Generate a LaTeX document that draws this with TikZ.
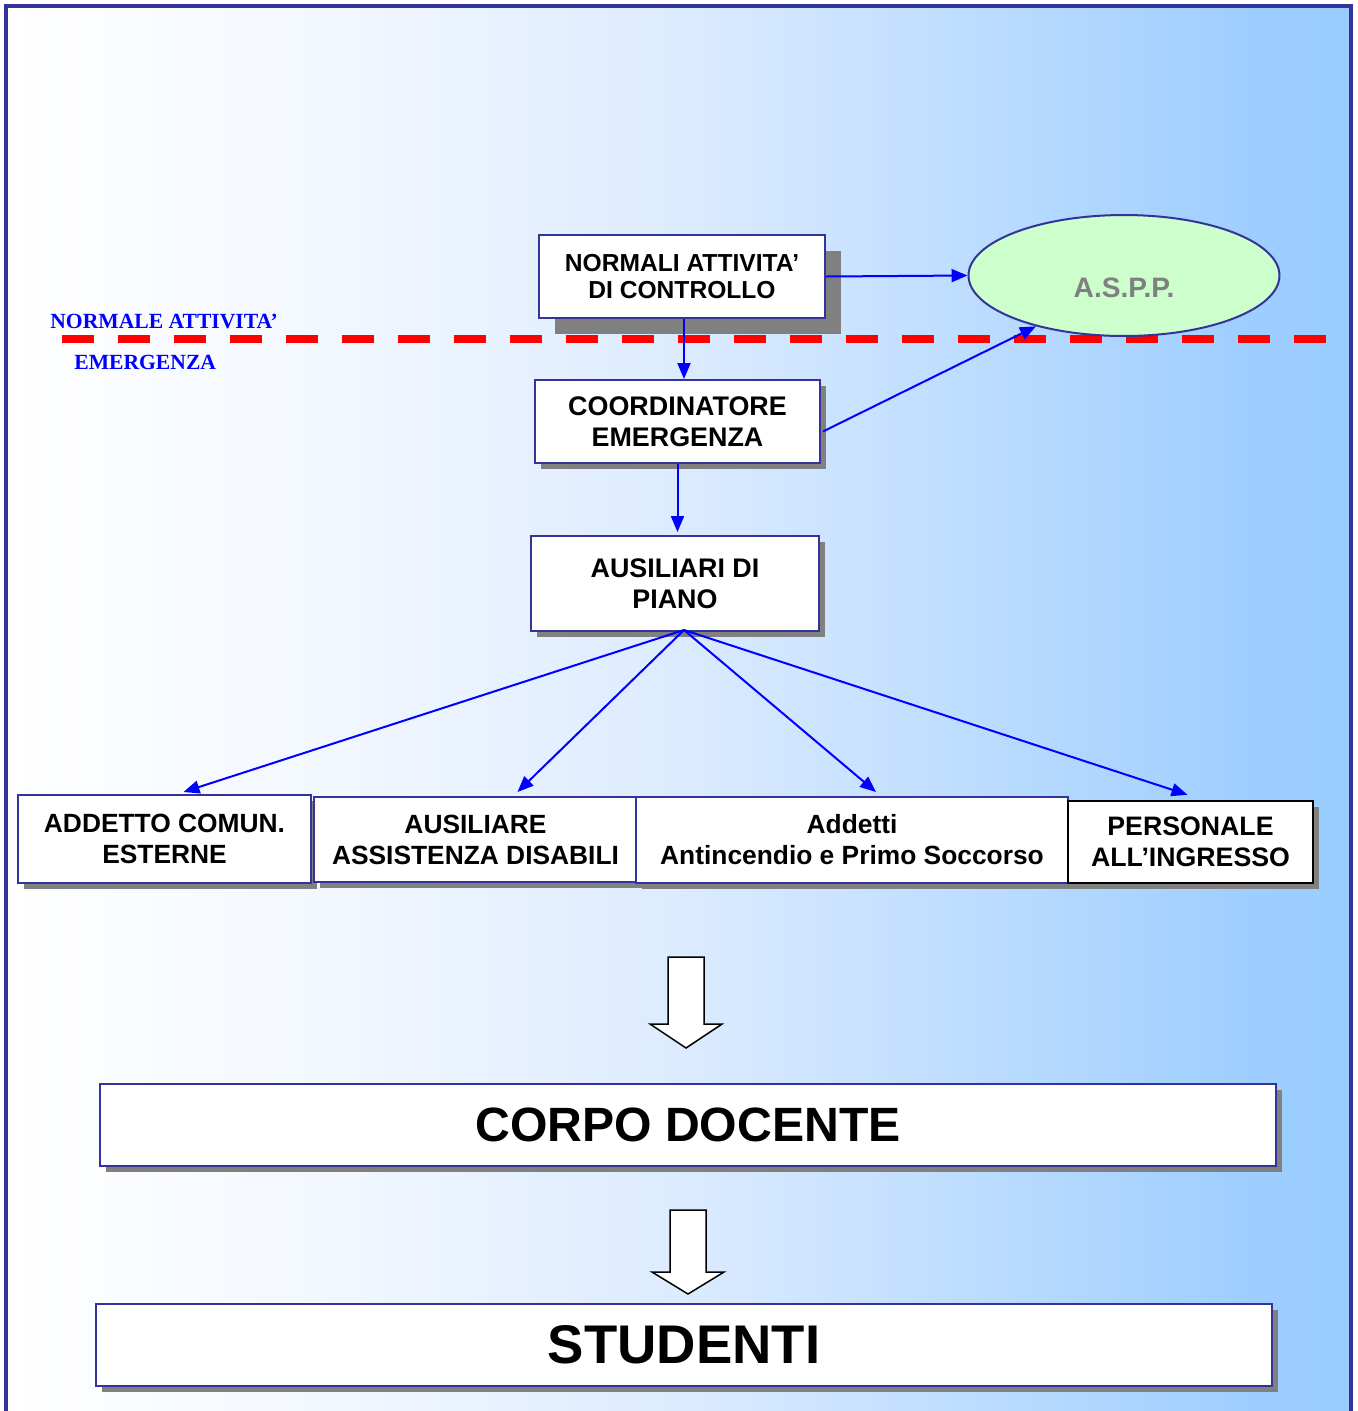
\documentclass[tikz,border=0pt]{standalone}
\usepackage{fontspec}
\setmainfont{Liberation Sans}
\newfontfamily\serifb{Liberation Serif}
\usetikzlibrary{arrows.meta,calc,shadows,shapes.geometric}
\definecolor{frameblue}{HTML}{333399}
\definecolor{arrowblue}{HTML}{0000FF}
\definecolor{shadowgray}{HTML}{808080}
\definecolor{aspgreen}{HTML}{CCFFCC}
\definecolor{gA}{HTML}{F2F7FF}
\definecolor{gB}{HTML}{DCEBFF}
\definecolor{gC}{HTML}{B8DAFF}
\definecolor{gD}{HTML}{9ECEFF}
\definecolor{gE}{HTML}{99CCFF}
\tikzset{
  box/.style={draw=frameblue, line width=0.04cm, fill=white, inner sep=0pt, align=center, text=black},
  sh/.style={general shadow={fill=shadowgray, shadow xshift=#1, shadow yshift=-#1}},
  sh/.default=0.12cm,
  conn/.style={draw=arrowblue, line width=0.04cm, -{Triangle[length=0.32cm,width=0.26cm]}},
  hdfont/.style={font=\fontsize{15.3}{17.6}\selectfont\bfseries},
  rowfont/.style={font=\fontsize{15}{17.6}\selectfont\bfseries},
  blockarrow/.style={draw=black, fill=white, line width=0.03cm, line join=miter},
  sidelabel/.style={font=\serifb\fontsize{12.3}{14}\selectfont\bfseries, text=arrowblue, anchor=base west, inner sep=0pt}
}
\begin{document}
\begin{tikzpicture}[x=0.02cm,y=-0.02cm]
\useasboundingbox (0,0) rectangle (1358,1411);
% background
\fill[white] (0,0) rectangle (1358,1411);
\shade[left color=white,right color=gA] (6,6) rectangle (340.5,1411);
\shade[left color=gA,right color=gB] (340,6) rectangle (680.5,1411);
\shade[left color=gB,right color=gC] (680,6) rectangle (1020.5,1411);
\shade[left color=gC,right color=gD] (1020,6) rectangle (1250.5,1411);
\shade[left color=gD,right color=gE] (1250,6) rectangle (1351,1411);
\draw[frameblue, line width=0.07cm, line join=miter] (6,1411) -- (6,6) -- (1351,6) -- (1351,1411);

% separator line and labels
\draw[red, line width=0.16cm, dash pattern=on 0.64cm off 0.48cm] (62,338.5) -- (1327,338.5);
\node[sidelabel] (lblnorm) at (50,328) {NORMALE ATTIVITA’};
\node[sidelabel] (lblemer) at (74,369) {EMERGENZA};

% top nodes
\node[box, sh=0.32cm, minimum width=5.72cm, minimum height=1.66cm, font=\fontsize{14}{15.6}\selectfont\bfseries] (norm) at (682,276.5) {NORMALI ATTIVITA’\\DI CONTROLLO};
\node[ellipse, draw=frameblue, line width=0.04cm, fill=aspgreen, minimum width=6.22cm, minimum height=2.42cm, inner sep=0pt] (aspp) at (1124,275.5) {};
\node[text=shadowgray, font=\fontsize{16}{18}\selectfont\bfseries, inner sep=0pt] (aspptext) at (1124,288) {A.S.P.P.};
\node[box, sh, hdfont, minimum width=5.7cm, minimum height=1.66cm] (coord) at (677.5,421.5) {COORDINATORE\\EMERGENZA};
\node[box, sh, hdfont, minimum width=5.76cm, minimum height=1.9cm] (ausil) at (675,583.5) {AUSILIARI DI\\PIANO};

% bottom row
\node[box, sh, rowfont, minimum width=5.86cm, minimum height=1.76cm] (addetto) at (164.5,839) {ADDETTO COMUN.\\ESTERNE};
\node[box, sh, rowfont, minimum width=6.46cm, minimum height=1.7cm] (disab) at (475.5,839.5) {AUSILIARE\\ASSISTENZA DISABILI};
\node[box, sh, rowfont, minimum width=8.64cm, minimum height=1.72cm] (antinc) at (852,840) {Addetti\\Antincendio e Primo Soccorso};
\node[box, sh, draw=black, line width=0.05cm, font=\fontsize{15.2}{17.6}\selectfont\bfseries, minimum width=4.9cm, minimum height=1.64cm] (person) at (1190.5,842) {PERSONALE\\ALL’INGRESSO};

% connectors
\draw[conn] (norm.east) -- (aspp.west);
\coordinate (nb) at ($(norm.south)+(2,0)$);
\draw[conn] (nb) -- (nb |- coord.north);
\draw[conn] ($(coord.east)+(2,10)$) -- (aspp.210);
\coordinate (cb) at (coord.south);
\coordinate (ct) at ($(cb |- ausil.north)+(0,-3)$);
\draw[conn] (cb) -- (ct);
\coordinate (fan) at ($(ausil.south)+(9,-2)$);
\draw[conn] (fan) -- ($(addetto.north)+(19,-2)$);
\draw[conn] (fan) -- ($(disab.north)+(42,-4)$);
\draw[conn] (fan) -- ($(antinc.north)+(24,-4)$);
\draw[conn] (fan) -- ($(person.north)+(-3,-5)$);

% block arrows
\draw[blockarrow] (668,957) -- (704,957) -- (704,1024) -- (722,1024) -- (686,1048) -- (650,1024) -- (668,1024) -- cycle;
\draw[blockarrow] (670,1210) -- (706,1210) -- (706,1272) -- (724,1272) -- (688,1294) -- (652,1272) -- (670,1272) -- cycle;

% big boxes
\node[box, sh, line width=0.05cm, font=\fontsize{27.4}{30}\selectfont\bfseries, minimum width=23.52cm, minimum height=1.64cm] (corpo) at (688,1125) {CORPO DOCENTE};
\node[box, sh, line width=0.05cm, font=\fontsize{31}{34}\selectfont\bfseries, minimum width=23.52cm, minimum height=1.64cm] (stud) at (684,1345) {STUDENTI};
\end{tikzpicture}
\end{document}
